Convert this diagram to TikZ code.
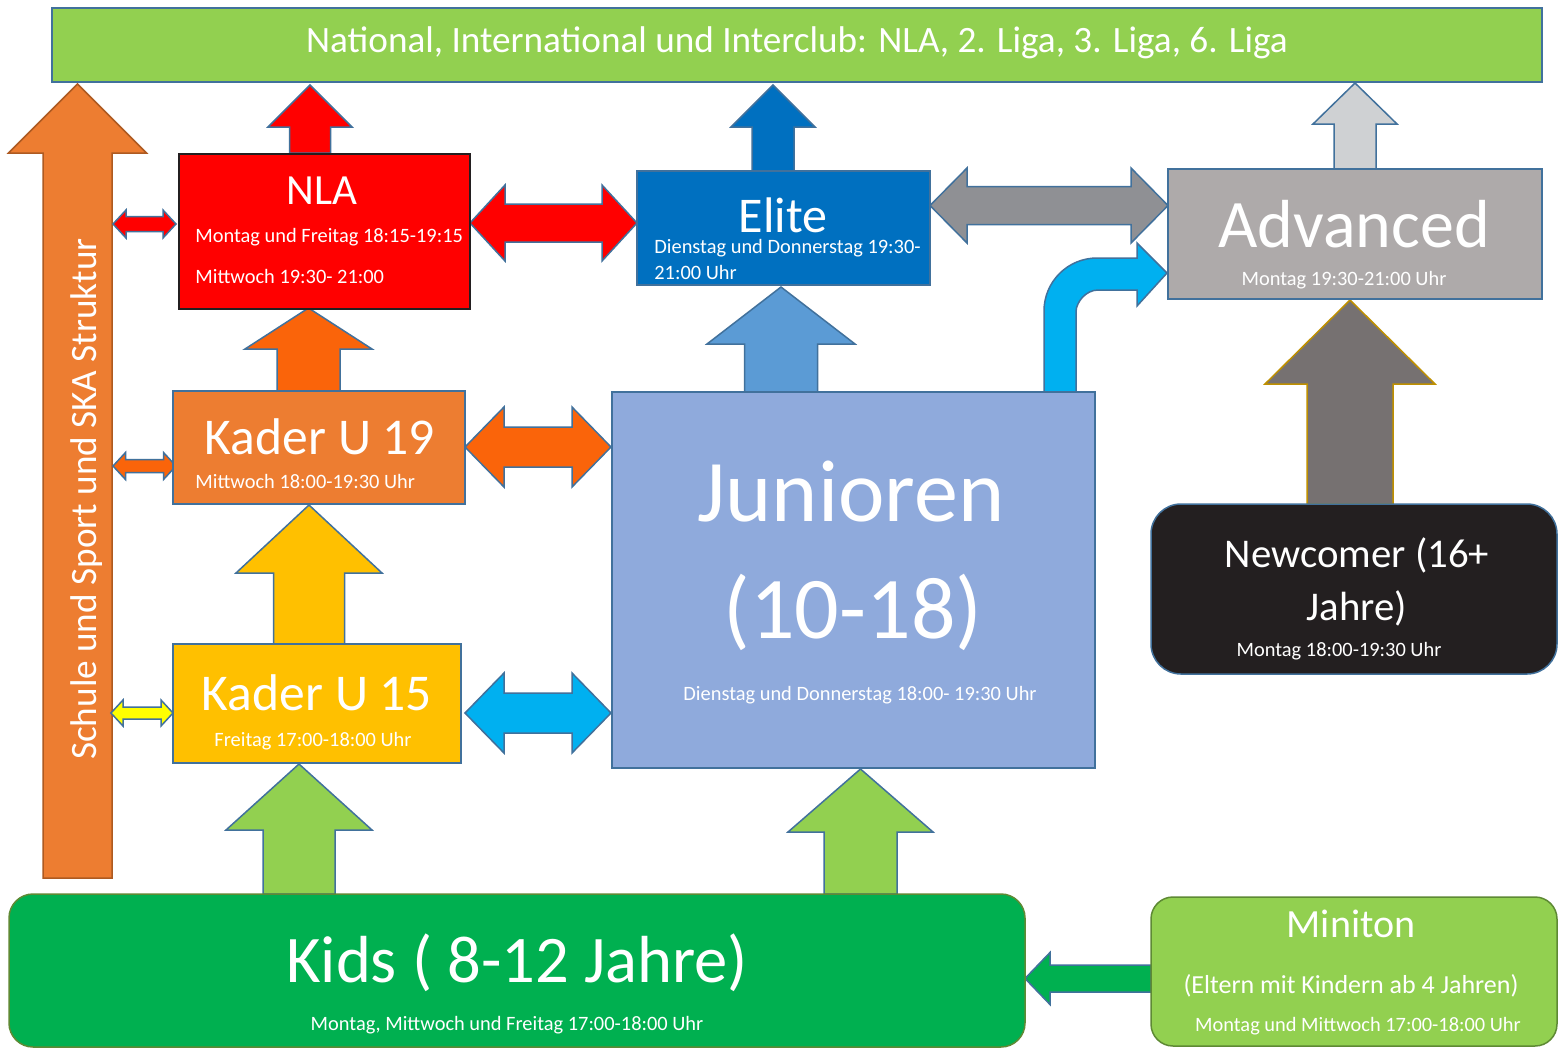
\documentclass[tikz,border=0pt]{standalone}
\usepackage{fontspec}
\setmainfont{Carlito}
\usetikzlibrary{fit}
\definecolor{barGreen}{HTML}{92D050}
\definecolor{edgeBlue}{HTML}{41719C}
\definecolor{orangeA}{HTML}{ED7D31}
\definecolor{orangeEdge}{HTML}{AE5A21}
\definecolor{orangeB}{HTML}{FA640A}
\definecolor{eliteBlue}{HTML}{0070C0}
\definecolor{grayArr}{HTML}{8F9094}
\definecolor{advGray}{HTML}{AEAAAA}
\definecolor{lightGray}{HTML}{CFD1D3}
\definecolor{cyanA}{HTML}{00B0F0}
\definecolor{yellowA}{HTML}{FFC000}
\definecolor{yellowB}{HTML}{FFFF00}
\definecolor{junBlue}{HTML}{8FAADC}
\definecolor{midBlue}{HTML}{5B9BD5}
\definecolor{nearBlack}{HTML}{231F20}
\definecolor{taupe}{HTML}{767171}
\definecolor{goldEdge}{HTML}{BF9000}
\definecolor{kidsGreen}{HTML}{00B050}
\definecolor{oliveEdge}{HTML}{5E8A34}
\newcommand\fsz[1]{\fontsize{#1}{#1}\selectfont}
% up block arrow: style, cx, apex y, head base y, head half, shaft half, bottom y
\newcommand\uparr[7]{\path[#1] ({#2-#6},#7) -- ({#2-#6},#4) -- ({#2-#5},#4) -- (#2,#3) -- ({#2+#5},#4) -- ({#2+#6},#4) -- ({#2+#6},#7) -- cycle;}
% horizontal double block arrow: style, x1, x2, cy, head length, head half, shaft half
\newcommand\dblarr[7]{\path[#1] (#2,#4) -- ({#2+#5},{#4-#6}) -- ({#2+#5},{#4-#7}) -- ({#3-#5},{#4-#7}) -- ({#3-#5},{#4-#6}) -- (#3,#4) -- ({#3-#5},{#4+#6}) -- ({#3-#5},{#4+#7}) -- ({#2+#5},{#4+#7}) -- ({#2+#5},{#4+#6}) -- cycle;}
\begin{document}
\begin{tikzpicture}[x=0.5pt,y=-0.5pt,
  box/.style={draw=edgeBlue, line width=0.75pt, inner sep=0pt},
  arr/.style={draw=edgeBlue, line width=0.75pt, line join=miter},
  txt/.style={text=white, inner sep=0pt, anchor=base}]
\useasboundingbox[fill=white] (0,0) rectangle (1559,1057);

% ---------- block arrows ----------
\uparr{arr, fill=orangeA, draw=orangeEdge}{77.5}{84}{153}{69}{34.5}{878}
\uparr{arr, fill=red}{310}{85}{127}{42}{20.5}{153}
\uparr{arr, fill=eliteBlue}{773}{85}{127}{42}{21}{171}
\uparr{arr, fill=lightGray}{1355}{83}{124}{42}{21}{169}
\uparr{arr, fill=orangeB}{308.5}{308}{349}{63.5}{31.5}{391}
\uparr{arr, fill=yellowA}{309}{505}{573}{73}{35.5}{644}
\uparr{arr, fill=midBlue}{781}{287}{344}{74}{36.5}{392}
\uparr{arr, fill=taupe, draw=goldEdge}{1350}{300}{384}{85}{43}{504}
\uparr{arr, fill=barGreen}{299}{764}{830}{73}{36}{894}
\uparr{arr, fill=barGreen}{860.5}{769}{832}{72.5}{36.5}{894}

\dblarr{arr, fill=red}{113}{176}{224}{13}{14}{7.5}
\dblarr{arr, fill=orangeB}{113}{176}{466}{12.5}{13.5}{6.5}
\dblarr{arr, fill=yellowB}{111}{173}{713}{12}{13}{6}
\dblarr{arr, fill=red}{470}{637}{223}{35}{38}{19}
\dblarr{arr, fill=grayArr}{930}{1168}{205.5}{37}{37.5}{19}
\dblarr{arr, fill=orangeB}{465}{611}{447}{39}{40}{20}
\dblarr{arr, fill=cyanA}{465}{611}{713}{39}{40}{20}

% Miniton -> Kids
\path[arr, fill=kidsGreen] (1025,978.5) -- (1050,952.5) -- (1050,965) -- (1151,965)
  -- (1151,992) -- (1050,992) -- (1050,1004.5) -- cycle;

% bent arrow Junioren -> Advanced
\path[arr, fill=cyanA] (1044,392) -- (1044,311)
  .. controls (1044,281.7) and (1067.7,258) .. (1097,258)
  -- (1137,258) -- (1137,243) -- (1167,273) -- (1137,306) -- (1137,290)
  -- (1098,290) .. controls (1085.85,290) and (1076,302.15) .. (1076,312)
  -- (1076,392) -- cycle;

% ---------- boxes ----------
\node[box, fill=barGreen, fit={(52,8)(1542,82)}] (bar) {};
\node[box, draw=nearBlack, line width=1.2pt, fill=red, fit={(179,154)(470,309)}] (nla) {};
\node[box, fill=eliteBlue, fit={(637,171)(930,285)}] (elite) {};
\node[box, fill=advGray, fit={(1168,169)(1542,299)}] (adv) {};
\node[box, fill=orangeA, fit={(173,391)(465,504)}] (u19) {};
\node[box, fill=yellowA, fit={(173,644)(461,763)}] (u15) {};
\node[box, fill=junBlue, fit={(612,392)(1095,768)}] (jun) {};
\node[box, fill=nearBlack, rounded corners=15pt, fit={(1151,504)(1557,674)}] (newc) {};
\node[box, draw=oliveEdge, fill=kidsGreen, rounded corners=12pt, fit={(9,894)(1025,1047)}] (kids) {};
\node[box, draw=oliveEdge, fill=barGreen, rounded corners=11pt, fit={(1151,897)(1557,1046)}] (mini) {};

% ---------- texts ----------
\node[txt, font=\fsz{18.6}] (tbar) at (797,52) {National, International und Interclub: NLA, 2. Liga, 3. Liga, 6. Liga};
\node[txt, font=\fsz{18.6}, rotate=90] (tska) at (96,499) {Schule und Sport und SKA Struktur};

\node[txt, font=\fsz{21.5}] (tnla) at (322,204) {NLA};
\node[txt, font=\fsz{10.2}, anchor=base west] (tnla1) at (195,242.5) {Montag und Freitag 18:15-19:15};
\node[txt, font=\fsz{10.2}, anchor=base west] (tnla2) at (195,283.5) {Mittwoch 19:30- 21:00};

\node[txt, font=\fsz{25}] (telite) at (783,232) {Elite};
\node[txt, font=\fsz{10.2}, anchor=base west] (telite1) at (654,253.5) {Dienstag und Donnerstag 19:30-};
\node[txt, font=\fsz{10.2}, anchor=base west] (telite2) at (654,279.5) {21:00 Uhr};

\node[txt, font=\fsz{34}] (tadv) at (1354,247) {Advanced};
\node[txt, font=\fsz{10.2}] (tadv1) at (1344,285) {Montag 19:30-21:00 Uhr};

\node[txt, font=\fsz{25.8}] (tu19) at (320,454.5) {Kader U 19};
\node[txt, font=\fsz{10.2}, anchor=base west] (tu191) at (195,488) {Mittwoch 18:00-19:30 Uhr};

\node[txt, font=\fsz{25.8}] (tu15) at (317,710) {Kader U 15};
\node[txt, font=\fsz{10.2}] (tu151) at (313,746.5) {Freitag 17:00-18:00 Uhr};

\node[txt, font=\fsz{44}] (tjun) at (851,521) {Junioren};
\node[txt, font=\fsz{44}] (tjun2) at (853,638) {(10-18)};
\node[txt, font=\fsz{10.2}] (tjun3) at (860,700) {Dienstag und Donnerstag 18:00- 19:30 Uhr};

\node[txt, font=\fsz{20.4}] (tnew) at (1357,567) {Newcomer (16+};
\node[txt, font=\fsz{20.4}] (tnew2) at (1357,620) {Jahre)};
\node[txt, font=\fsz{10.2}] (tnew3) at (1339,656.5) {Montag 18:00-19:30 Uhr};

\node[txt, font=\fsz{33.3}] (tkids) at (517,982.5) {Kids ( 8-12 Jahre)};
\node[txt, font=\fsz{10.2}] (tkids2) at (507,1030.5) {Montag, Mittwoch und Freitag 17:00-18:00 Uhr};

\node[txt, font=\fsz{20}] (tmini) at (1351,937) {Miniton};
\node[txt, font=\fsz{13}] (tmini2) at (1351,993) {(Eltern mit Kindern ab 4 Jahren)};
\node[txt, font=\fsz{10.2}] (tmini3) at (1358,1031.5) {Montag und Mittwoch 17:00-18:00 Uhr};
\end{tikzpicture}
\end{document}
